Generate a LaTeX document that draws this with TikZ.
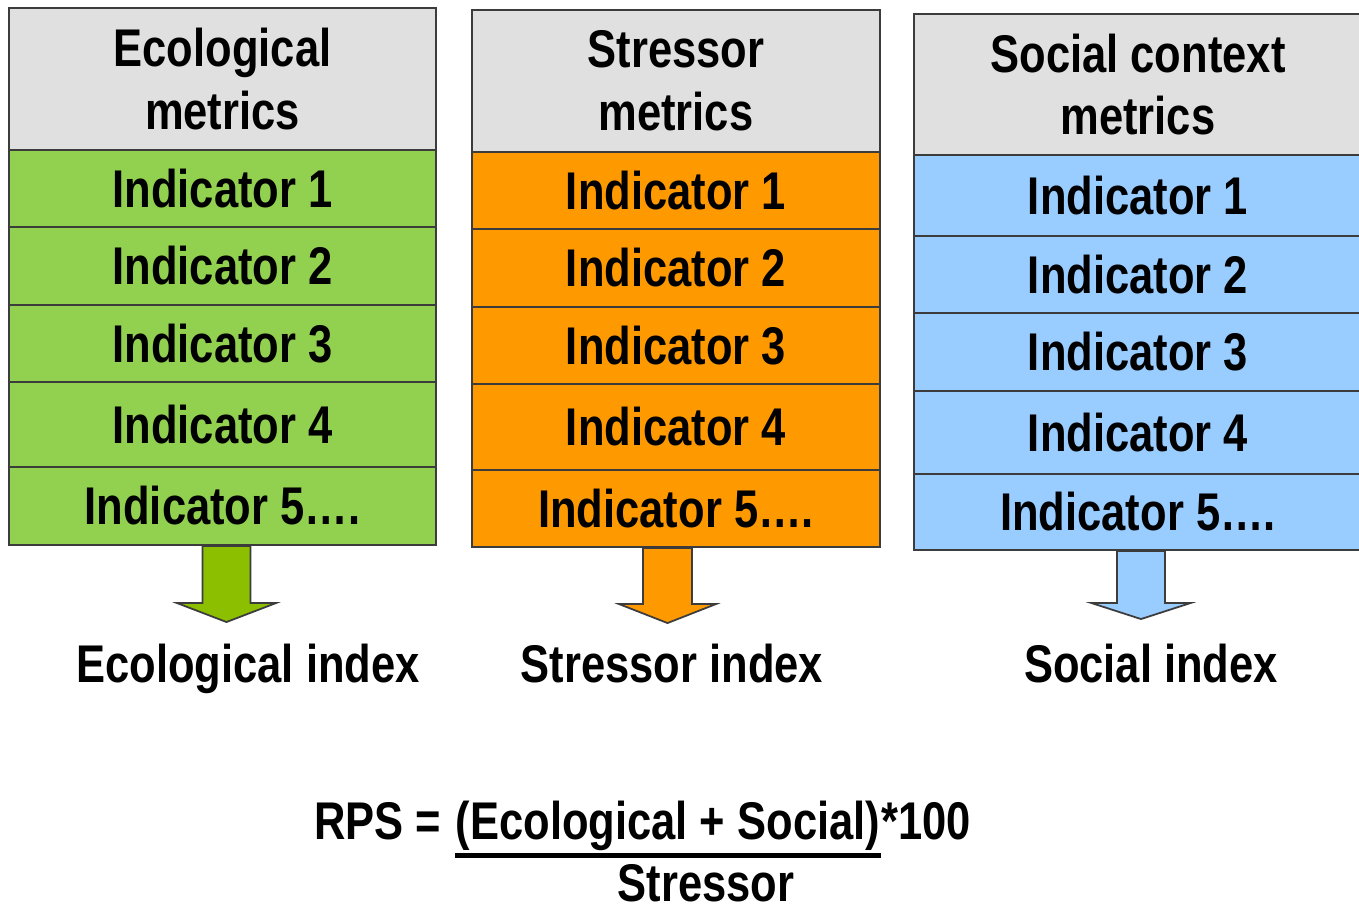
\documentclass[tikz,border=0pt]{standalone}
\usepackage{fontspec}
\newfontfamily\nbfont[FakeStretch=0.82]{Liberation Sans}
\newcommand\dtxt{\nbfont\bfseries\fontsize{15.1}{17.9}\selectfont}
\usetikzlibrary{calc}
\definecolor{hdr}{HTML}{E0E0E0}
\definecolor{grn}{HTML}{92D050}
\definecolor{org}{HTML}{FF9900}
\definecolor{blu}{HTML}{99CCFF}
\definecolor{grnarrow}{HTML}{8CBF00}
\definecolor{edge}{HTML}{3C3C3C}
\begin{document}
\begin{tikzpicture}[x=1cm,y=-1cm,
  cell/.style={draw=edge, line width=0.6pt, rectangle, inner sep=0pt, align=center, font=\dtxt},
  lbl/.style={inner sep=0pt, font=\dtxt},
  arrowline/.style={draw=edge, line width=0.5pt, line join=miter},
  uline/.style={line width=1.4pt, black}]
\useasboundingbox (0,0) rectangle (13.59,9.04);
\fill[white] (0,0) rectangle (13.59,9.04);
% Column 1: Ecological
\node[cell, fill=hdr, minimum width=4.27cm, minimum height=1.42cm] (eh) at (2.225,0.79) {Ecological\\metrics};
\node[cell, fill=grn, minimum width=4.27cm, minimum height=0.77cm] (e1) at (2.225,1.885) {Indicator 1};
\node[cell, fill=grn, minimum width=4.27cm, minimum height=0.78cm] (e2) at (2.225,2.66) {Indicator 2};
\node[cell, fill=grn, minimum width=4.27cm, minimum height=0.77cm] (e3) at (2.225,3.435) {Indicator 3};
\node[cell, fill=grn, minimum width=4.27cm, minimum height=0.85cm] (e4) at (2.225,4.245) {Indicator 4};
\node[cell, fill=grn, minimum width=4.27cm, minimum height=0.78cm] (e5) at (2.225,5.06) {Indicator 5….};
% Column 2: Stressor
\node[cell, fill=hdr, minimum width=4.08cm, minimum height=1.42cm] (sh) at (6.76,0.81) {Stressor\\metrics};
\node[cell, fill=org, minimum width=4.08cm, minimum height=0.77cm] (s1) at (6.76,1.905) {Indicator 1};
\node[cell, fill=org, minimum width=4.08cm, minimum height=0.78cm] (s2) at (6.76,2.68) {Indicator 2};
\node[cell, fill=org, minimum width=4.08cm, minimum height=0.77cm] (s3) at (6.76,3.455) {Indicator 3};
\node[cell, fill=org, minimum width=4.08cm, minimum height=0.86cm] (s4) at (6.76,4.27) {Indicator 4};
\node[cell, fill=org, minimum width=4.08cm, minimum height=0.77cm] (s5) at (6.76,5.085) {Indicator 5….};
% Column 3: Social context
\node[cell, fill=hdr, minimum width=4.48cm, minimum height=1.41cm] (ch) at (11.38,0.845) {Social context\\metrics};
\node[cell, fill=blu, minimum width=4.48cm, minimum height=0.81cm] (c1) at (11.38,1.955) {Indicator 1};
\node[cell, fill=blu, minimum width=4.48cm, minimum height=0.77cm] (c2) at (11.38,2.745) {Indicator 2};
\node[cell, fill=blu, minimum width=4.48cm, minimum height=0.78cm] (c3) at (11.38,3.52) {Indicator 3};
\node[cell, fill=blu, minimum width=4.48cm, minimum height=0.83cm] (c4) at (11.38,4.325) {Indicator 4};
\node[cell, fill=blu, minimum width=4.48cm, minimum height=0.76cm] (c5) at (11.38,5.12) {Indicator 5….};
% Index labels
\node[lbl, anchor=base] (ei) at (2.48,6.83) {Ecological index};
\node[lbl, anchor=base] (si) at (6.72,6.83) {Stressor index};
\node[lbl, anchor=base] (ci) at (11.51,6.83) {Social index};
% Block arrows from columns to index labels
\coordinate (a1) at ($(e5.south)+(0.04,0)$);
\coordinate (a2) at ($(s5.south)+(-0.085,0)$);
\coordinate (a3) at ($(c5.south)+(0.03,0)$);
\draw[arrowline, fill=grnarrow, shift={(a1)}] (-0.24,0) -- (-0.24,0.57) -- (-0.495,0.57) -- (0,0.76) -- (0.495,0.57) -- (0.24,0.57) -- (0.24,0) -- cycle;
\draw[arrowline, fill=org, shift={(a2)}] (-0.245,0) -- (-0.245,0.56) -- (-0.485,0.56) -- (0,0.75) -- (0.485,0.56) -- (0.245,0.56) -- (0.245,0) -- cycle;
\draw[arrowline, fill=blu, shift={(a3)}] (-0.24,0) -- (-0.24,0.52) -- (-0.495,0.52) -- (0,0.68) -- (0.495,0.52) -- (0.24,0.52) -- (0.24,0) -- cycle;
% Formula
\node[lbl, anchor=base west] (num) at (4.55,8.40) {(Ecological + Social)};
\node[lbl, anchor=base east] (rps) at ($(num.base west)+(-0.13,0)$) {RPS =};
\node[lbl, anchor=base west] (times) at (num.base east) {*100};
\draw[uline] ($(num.south west)+(0,0.04)$) -- ($(num.south east)+(0,0.04)$);
\node[lbl, anchor=base] (den) at (7.06,9.02) {Stressor};
\end{tikzpicture}
\end{document}
